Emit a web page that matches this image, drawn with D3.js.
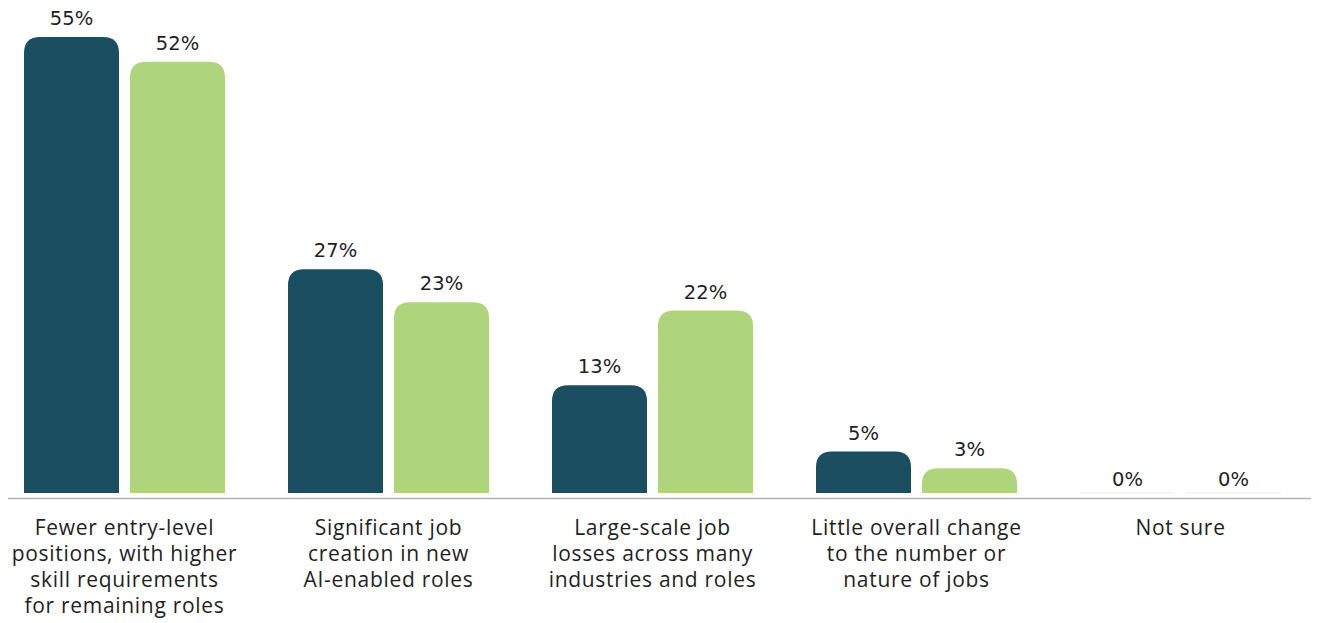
<!DOCTYPE html>
<html>
<head>
<meta charset="utf-8">
<script src="https://cdn.jsdelivr.net/npm/d3@7"></script>
<style>
  html, body { margin: 0; padding: 0; background: #ffffff; }
  svg { display: block; }
</style>
</head>
<body>
<svg id="chart" width="1321" height="623"></svg>
<script>
// Category labels (line breaks mark the wrapped lines under each group)
const categories = [
  "Fewer entry-level\npositions, with higher\nskill requirements\nfor remaining roles",
  "Significant job\ncreation in new\nAI-enabled roles",
  "Large-scale job\nlosses across many\nindustries and roles",
  "Little overall change\nto the number or\nnature of jobs",
  "Not sure"
];
const seriesNames = ["Series A", "Series B"];
const seriesA = [55, 27, 13, 5, 0];
const seriesB = [52, 23, 22, 3, 0];
const seriesColors = ["#1a4e60", "#aed57c"];

const svg = d3.select("#chart");

const baseY = 493;
const y = d3.scaleLinear().domain([0, 55]).range([baseY, 37]);

const x0 = d3.scaleBand()
  .domain(categories)
  .range([-7.5, 1312.5])
  .paddingInner(63 / 264)
  .paddingOuter(31.5 / 264);

const x1 = d3.scaleBand()
  .domain(seriesNames)
  .range([0, x0.bandwidth()])
  .paddingInner(11 / 106);

const rows = categories.map((c, i) => ({
  cat: c,
  values: [
    { key: seriesNames[0], v: seriesA[i], color: seriesColors[0] },
    { key: seriesNames[1], v: seriesB[i], color: seriesColors[1] }
  ]
}));

// bar path with rounded top corners
function topRounded(x, yTop, w, h, r) {
  r = Math.min(r, h, w / 2);
  return `M${x},${yTop + h}` +
    `V${yTop + r}` +
    `Q${x},${yTop} ${x + r},${yTop}` +
    `H${x + w - r}` +
    `Q${x + w},${yTop} ${x + w},${yTop + r}` +
    `V${yTop + h}Z`;
}

// axis baseline
svg.append("line")
  .attr("x1", 8).attr("x2", 1311)
  .attr("y1", 498.5).attr("y2", 498.5)
  .attr("stroke", "#b3b3b3")
  .attr("stroke-width", 1.5);

const groups = svg.selectAll("g.group")
  .data(rows)
  .join("g")
  .attr("class", "group")
  .attr("transform", d => `translate(${x0(d.cat)},0)`);

groups.selectAll("path.bar")
  .data(d => d.values.filter(v => v.v > 0))
  .join("path")
  .attr("class", "bar")
  .attr("fill", d => d.color)
  .attr("d", d => topRounded(x1(d.key), y(d.v), x1.bandwidth(), baseY - y(d.v), 16));

// zero values shown as a faint hairline
groups.selectAll("line.zero")
  .data(d => d.values.filter(v => v.v === 0))
  .join("line")
  .attr("class", "zero")
  .attr("x1", d => x1(d.key))
  .attr("x2", d => x1(d.key) + x1.bandwidth())
  .attr("y1", baseY).attr("y2", baseY)
  .attr("stroke", "#ececec")
  .attr("stroke-width", 1);

// value labels
groups.selectAll("text.value")
  .data(d => d.values)
  .join("text")
  .attr("class", "value")
  .attr("x", d => x1(d.key) + x1.bandwidth() / 2)
  .attr("y", d => y(d.v) - (d.v === 0 ? 7 : 12))
  .attr("text-anchor", "middle")
  .attr("font-family", "DejaVu Sans, sans-serif")
  .attr("font-size", "19.5px")
  .attr("fill", "#1f1f1f")
  .text(d => d.v + "%");

// category labels
const labels = svg.selectAll("text.cat")
  .data(categories)
  .join("text")
  .attr("class", "cat")
  .attr("x", d => x0(d) + x0.bandwidth() / 2)
  .attr("y", 535)
  .attr("text-anchor", "middle")
  .attr("font-family", "Open Sans, sans-serif")
  .attr("font-size", "21px")
  .attr("letter-spacing", "0.7px")
  .attr("fill", "#1f1f1f");

labels.selectAll("tspan")
  .data(d => d.split("\n"))
  .join("tspan")
  .attr("x", function () { return d3.select(this.parentNode).attr("x"); })
  .attr("dy", (d, i) => i === 0 ? 0 : 26)
  .text(d => d);
</script>
</body>
</html>
